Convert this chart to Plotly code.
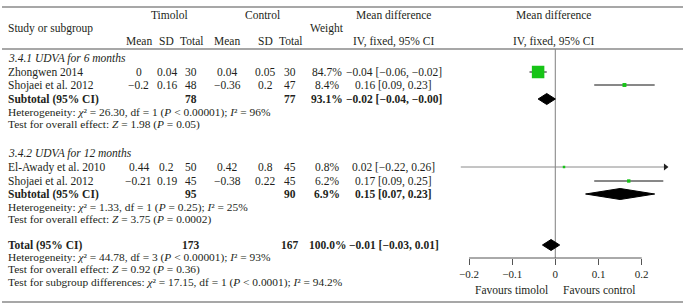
import plotly.graph_objects as go

# ---------------- data ----------------
studies = ["Zhongwen 2014", "Shojaei et al. 2012", "El-Awady et al. 2010", "Shojaei et al. 2012"]
study_group = [0, 0, 1, 1]
tim_mean = [0, -0.2, 0.44, -0.21]
tim_sd = [0.04, 0.16, 0.2, 0.19]
tim_n = [30, 48, 50, 45]
ctl_mean = [0.04, -0.36, 0.42, -0.38]
ctl_sd = [0.05, 0.2, 0.8, 0.22]
ctl_n = [30, 47, 45, 45]
weight = [84.7, 8.4, 0.8, 6.2]
md = [-0.04, 0.16, 0.02, 0.17]
md_lo = [-0.06, 0.09, -0.22, 0.09]
md_hi = [-0.02, 0.23, 0.26, 0.25]

sub_names = ["3.4.1 UDVA for 6 months", "3.4.2 UDVA for 12 months"]
sub_tim_n = [78, 95]
sub_ctl_n = [77, 90]
sub_weight = [93.1, 6.9]
sub_md = [-0.02, 0.15]
sub_lo = [-0.04, 0.07]
sub_hi = [-0.0, 0.23]
sub_chi2 = ["26.30", "1.33"]
sub_df = [1, 1]
sub_p = ["< 0.00001", "= 0.25"]
sub_i2 = ["96", "25"]
sub_z = ["1.98", "3.75"]
sub_zp = ["0.05", "0.0002"]

total_n = [173, 167]
total_weight = 100.0
total_md = [-0.01, -0.03, 0.01]
total_het = ["44.78", 3, "< 0.00001", "93"]
total_z = ["0.92", "0.36"]
subgroup_diff = ["17.15", 1, "< 0.0001", "94.2"]

tick_vals = [-0.2, -0.1, 0, 0.1, 0.2]
tick_text = ["−0.2", "−0.1", "0", "0.1", "0.2"]
favours = ["Favours timolol", "Favours control"]

# ---------------- geometry ----------------
W, H = 683, 305
X0PX, PXU = 555, 433.0          # pixel of zero, pixels per unit
FONT = "Liberation Serif"
TXT = "#231f20"
GREEN = "#17c417"
GREY = "#8a8a8a"


def num(v):
    return f"{v:g}".replace("-", "−")


def ci(e, lo, hi):
    return f"{e:.2f} [{lo:.2f}, {hi:.2f}]".replace("-", "−")


fig = go.Figure()
ann = []
MAIN = 11.5
SMALL = 11.4


def text(px, py, s, size=MAIN, anchor="center", bold=False, italic=False):
    if bold:
        s = f"<b>{s}</b>"
    if italic:
        s = f"<i>{s}</i>"
    ann.append(dict(x=px / W, xref="paper", y=py, yref="y", text=s, showarrow=False,
                    xanchor=anchor, yanchor="middle",
                    font=dict(family=FONT, size=size, color=TXT)))


# columns
C_TM, C_TS, C_TN = 137, 165, 190
C_CM, C_CS, C_CN = 226, 264, 289
C_W, C_CI, C_PLOT = 326, 393, 553
LEFT = 4

# header
text(168, 15, "Timolol")
text(261, 15, "Control")
text(C_CI, 15, "Mean difference")
text(C_PLOT, 15, "Mean difference")
text(LEFT, 28, "Study or subgroup", anchor="left")
text(C_W, 28, "Weight")
for cx, s in [(C_TM, "Mean"), (C_TS, "SD"), (C_TN, "Total"), (C_CM, "Mean"), (C_CS, "SD"), (C_CN, "Total")]:
    text(cx, 41, s)
text(C_CI, 41, "IV, fixed, 95% CI")
text(C_PLOT, 41, "IV, fixed, 95% CI")

# row layout
group_rows = [
    dict(title=58, studies=[72, 85], sub=99, het=112, test=124),
    dict(title=153, studies=[167, 181], sub=194, het=207, test=219),
]
TOTAL_Y, TOT_HET, TOT_TEST, TOT_SUB = 245, 257, 269, 282
AXIS_Y = 258

diamonds = []
for g, rows in enumerate(group_rows):
    text(LEFT, rows["title"], sub_names[g], italic=True, anchor="left")
    idx = [i for i, sg in enumerate(study_group) if sg == g]
    for i, ry in zip(idx, rows["studies"]):
        text(LEFT, ry, studies[i], anchor="left")
        text(C_TM, ry, num(tim_mean[i]))
        text(C_TS, ry, num(tim_sd[i]))
        text(C_TN, ry, str(tim_n[i]))
        text(C_CM, ry, num(ctl_mean[i]))
        text(C_CS, ry, num(ctl_sd[i]))
        text(C_CN, ry, str(ctl_n[i]))
        text(C_W, ry, f"{weight[i]:.1f}%")
        text(C_CI, ry, ci(md[i], md_lo[i], md_hi[i]))
        # forest marks
        xmax = 0.255
        hi = min(md_hi[i], xmax)
        clipped = md_hi[i] > xmax
        fig.add_trace(go.Scatter(x=[md_lo[i], hi], y=[ry, ry], mode="lines",
                                 line=dict(color=GREY if clipped else "#111", width=1),
                                 hoverinfo="skip", showlegend=False))
        if clipped:
            fig.add_trace(go.Scatter(x=[hi], y=[ry], mode="markers",
                                     marker=dict(symbol="triangle-right", size=6, color="#222"),
                                     hoverinfo="skip", showlegend=False))
        sz = max(2.5, 12.5 * (weight[i] / max(weight)) ** 0.5)
        fig.add_trace(go.Scatter(x=[md[i]], y=[ry], mode="markers",
                                 marker=dict(symbol="square", size=sz, color=GREEN,
                                             line=dict(width=0)),
                                 hoverinfo="skip", showlegend=False))
    sy = rows["sub"]
    text(LEFT, sy, "Subtotal (95% CI)", anchor="left", bold=True)
    text(C_TN, sy, str(sub_tim_n[g]), bold=True)
    text(C_CN, sy, str(sub_ctl_n[g]), bold=True)
    text(C_W, sy, f"{sub_weight[g]:.1f}%", bold=True)
    text(C_CI, sy, ci(sub_md[g], sub_lo[g], sub_hi[g]), bold=True)
    diamonds.append((sub_md[g], sub_lo[g], sub_hi[g], sy))
    text(LEFT, rows["het"],
         f"Heterogeneity: <i>χ</i>² = {sub_chi2[g]}, df = {sub_df[g]} (<i>P</i> {sub_p[g]}); <i>I</i>² = {sub_i2[g]}%",
         size=SMALL, anchor="left")
    text(LEFT, rows["test"],
         f"Test for overall effect: <i>Z</i> = {sub_z[g]} (<i>P</i> = {sub_zp[g]})",
         size=SMALL, anchor="left")

# total
text(LEFT, TOTAL_Y, "Total (95% CI)", anchor="left", bold=True)
text(C_TN, TOTAL_Y, str(total_n[0]), bold=True)
text(C_CN, TOTAL_Y, str(total_n[1]), bold=True)
text(C_W, TOTAL_Y, f"{total_weight:.1f}%", bold=True)
text(C_CI, TOTAL_Y, ci(*total_md), bold=True)
diamonds.append((total_md[0], total_md[1], total_md[2], TOTAL_Y))
text(LEFT, TOT_HET,
     f"Heterogeneity: <i>χ</i>² = {total_het[0]}, df = {total_het[1]} (<i>P</i> {total_het[2]}); <i>I</i>² = {total_het[3]}%",
     size=SMALL, anchor="left")
text(LEFT, TOT_TEST, f"Test for overall effect: <i>Z</i> = {total_z[0]} (<i>P</i> = {total_z[1]})",
     size=SMALL, anchor="left")
text(LEFT, TOT_SUB,
     f"Test for subgroup differences: <i>χ</i>² = {subgroup_diff[0]}, df = {subgroup_diff[1]} (<i>P</i> {subgroup_diff[2]}); <i>I</i>² = {subgroup_diff[3]}%",
     size=SMALL, anchor="left")

for e, lo, hi, dy in diamonds:
    h = 5.5
    fig.add_trace(go.Scatter(x=[lo, e, hi, e, lo], y=[dy, dy - h, dy, dy + h, dy],
                             mode="lines", fill="toself", fillcolor="#000",
                             line=dict(color="#000", width=1),
                             hoverinfo="skip", showlegend=False))

# favours labels
text(X0PX - 44, 290, favours[0])
text(X0PX + 44, 290, favours[1])

# lines
shapes = [
    dict(type="line", xref="paper", x0=0, x1=1, yref="y", y0=7, y1=7, line=dict(color=GREY, width=1.3)),
    dict(type="line", xref="paper", x0=0, x1=1, yref="y", y0=49, y1=49, line=dict(color=GREY, width=1.3)),
    dict(type="line", xref="paper", x0=0, x1=1, yref="y", y0=302, y1=302, line=dict(color=GREY, width=1.3)),
    dict(type="line", xref="x", x0=0, x1=0, yref="y", y0=49, y1=AXIS_Y, line=dict(color="#9a9a9a", width=1.3), layer="below"),
    dict(type="line", xref="x", x0=tick_vals[0], x1=tick_vals[-1], yref="y", y0=AXIS_Y, y1=AXIS_Y,
         line=dict(color="#555", width=1)),
]

fig.update_layout(
    width=W, height=H, autosize=False,
    margin=dict(l=0, r=0, t=0, b=0),
    paper_bgcolor="white", plot_bgcolor="rgba(0,0,0,0)",
    annotations=ann, shapes=shapes, showlegend=False,
    xaxis=dict(domain=[460 / W, 1], range=[(460 - X0PX) / PXU, (W - X0PX) / PXU],
               anchor="free", position=1 - AXIS_Y / H,
               showgrid=False, zeroline=False, showline=False,
               tickmode="array", tickvals=tick_vals, ticktext=tick_text,
               ticks="outside", ticklen=6, tickwidth=1, tickcolor="#555",
               tickfont=dict(family=FONT, size=11, color=TXT)),
    yaxis=dict(domain=[0, 1], range=[H, 0], visible=False, showgrid=False, zeroline=False),
)

fig.write_html("out.html", config={"displayModeBar": False},
               post_script="document.body.style.margin='0';document.body.style.padding='0';")
